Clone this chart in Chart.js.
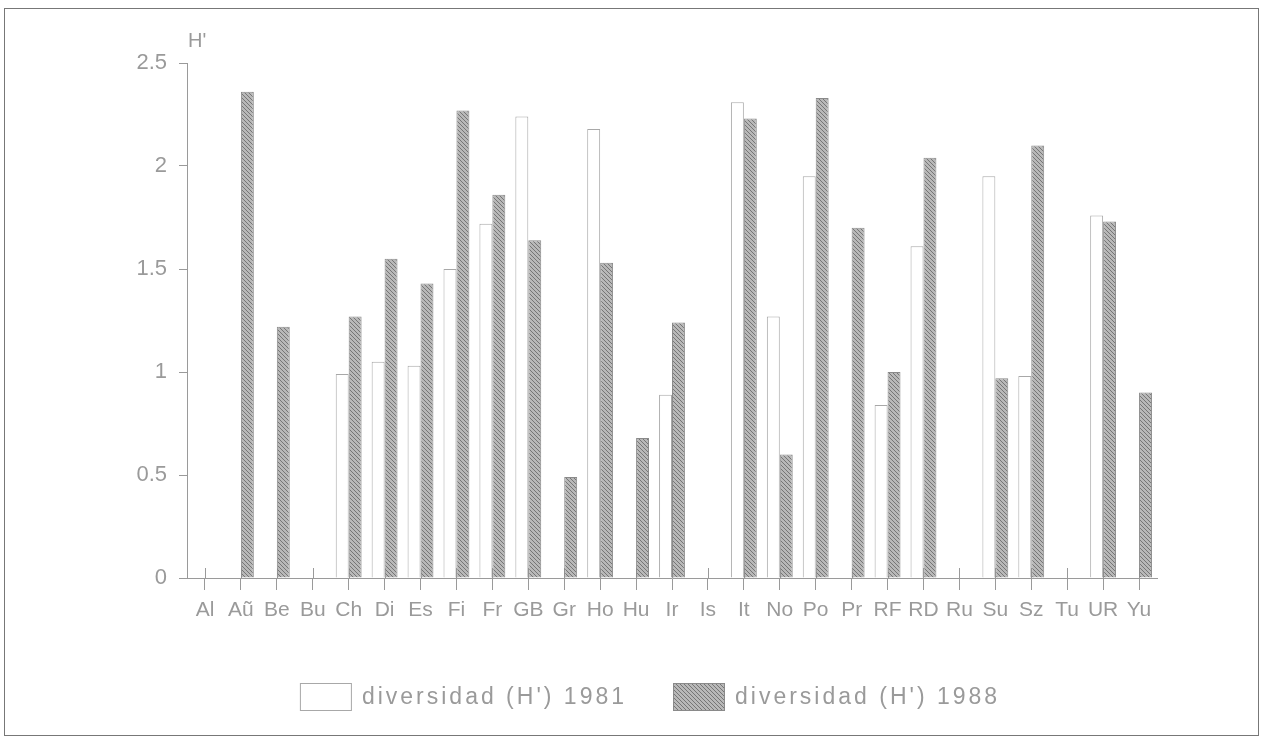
<!DOCTYPE html>
<html lang="es">
<head>
<meta charset="UTF-8">
<title>Diversidad (H')</title>
<script src="https://cdn.jsdelivr.net/npm/chart.js@4.4.1/dist/chart.umd.min.js"></script>
<style>
    body { margin: 0; background: #fff; }
    #wrap { position: relative; width: 1267px; height: 738px; }
    #frame { position: absolute; left: 4px; top: 8px; width: 1255px; height: 728px;
             border: 1px solid #777; box-sizing: border-box; pointer-events: none; }
</style>
</head>
<body>
<div id="wrap">
    <canvas id="chart" width="1267" height="738"></canvas>
    <div id="frame"></div>
</div>
<script>
    // datos
    const paises = ['Al', 'Aũ', 'Be', 'Bu', 'Ch', 'Di', 'Es', 'Fi', 'Fr', 'GB', 'Gr', 'Ho', 'Hu', 'Ir',
        'Is', 'It', 'No', 'Po', 'Pr', 'RF', 'RD', 'Ru', 'Su', 'Sz', 'Tu', 'UR', 'Yu'];
    const h1981 = [null, null, null, null, 0.99, 1.05, 1.03, 1.50, 1.72, 2.24, null, 2.18, null, 0.89,
        null, 2.31, 1.27, 1.95, null, 0.84, 1.61, null, 1.95, 0.98, null, 1.76, null];
    const h1988 = [null, 2.36, 1.22, null, 1.27, 1.55, 1.43, 2.27, 1.86, 1.64, 0.49, 1.53, 0.68, 1.24,
        null, 2.23, 0.60, 2.33, 1.70, 1.00, 2.04, null, 0.97, 2.10, null, 1.73, 0.90];
    const series = ["diversidad (H') 1981", "diversidad (H') 1988"];

    const gris = '#9a9a9a';
    const fuente = 'Liberation Sans, Arial, sans-serif';

    function hatch() {
        const c = document.createElement('canvas');
        c.width = 4; c.height = 4;
        const g = c.getContext('2d');
        g.fillStyle = '#b8b8b8';
        g.fillRect(0, 0, 4, 4);
        g.strokeStyle = '#767676';
        g.lineWidth = 1;
        g.beginPath();
        g.moveTo(0, 0); g.lineTo(4, 4);
        g.moveTo(-1, 3); g.lineTo(1, 5);
        g.moveTo(3, -1); g.lineTo(5, 1);
        g.stroke();
        return g.createPattern(c, 'repeat');
    }

    // ticks del eje x que cruzan la linea
    const crossTicks = {
        id: 'crossTicks',
        beforeDatasetsDraw(chart) {
            const x = chart.scales.x, ctx = chart.ctx, b = chart.chartArea.bottom;
            ctx.save();
            ctx.strokeStyle = gris;
            ctx.lineWidth = 1;
            for (let i = 0; i < x.ticks.length; i++) {
                const px = Math.round(x.getPixelForTick(i)) + 0.5;
                ctx.beginPath();
                ctx.moveTo(px, b - 10);
                ctx.lineTo(px, b);
                ctx.stroke();
            }
            ctx.restore();
        }
    };

    // titulo H' y leyenda propia
    const extras = {
        id: 'extras',
        afterDraw(chart) {
            const ctx = chart.ctx, area = chart.chartArea;
            ctx.save();
            ctx.fillStyle = gris;
            ctx.font = '20px ' + fuente;
            ctx.textBaseline = 'middle';
            ctx.fillText("H'", area.left + 1, area.top - 22);

            ctx.font = '23px ' + fuente;
            ctx.letterSpacing = '3px';
            const boxW = 52, boxH = 28, gapT = 10, gapI = 46;
            const ds = chart.data.datasets;
            let total = 0;
            ds.forEach((d, i) => {
                total += boxW + gapT + ctx.measureText(d.label).width + (i ? 0 : gapI);
            });
            let x = 650 - total / 2;
            const y = 697;
            ds.forEach(d => {
                ctx.fillStyle = d.backgroundColor;
                ctx.fillRect(x, y - boxH / 2, boxW, boxH);
                ctx.strokeStyle = d.borderColor;
                ctx.lineWidth = 1;
                ctx.strokeRect(x + 0.5, y - boxH / 2 + 0.5, boxW - 1, boxH - 1);
                ctx.fillStyle = gris;
                ctx.fillText(d.label, x + boxW + gapT, y + 1);
                x += boxW + gapT + ctx.measureText(d.label).width + gapI;
            });
            ctx.restore();
        }
    };

    const ctx = document.getElementById('chart').getContext('2d');
    new Chart(ctx, {
        type: 'bar',
        data: {
            labels: paises,
            datasets: [{
                label: series[0],
                data: h1981,
                backgroundColor: '#ffffff',
                borderColor: '#a8a8a8',
                borderWidth: 1
            }, {
                label: series[1],
                data: h1988,
                backgroundColor: hatch(),
                borderColor: '#8a8a8a',
                borderWidth: 1
            }]
        },
        options: {
            responsive: false,
            animation: false,
            categoryPercentage: 0.72,
            barPercentage: 1,
            layout: { padding: { left: 0, right: 110, top: 63, bottom: 102 } },
            plugins: {
                legend: { display: false },
                tooltip: { enabled: false }
            },
            scales: {
                x: {
                    afterFit(scale) { scale.height = 58; },
                    border: { color: gris, width: 1 },
                    grid: { offset: false, drawOnChartArea: false, tickLength: 12, color: gris },
                    ticks: {
                        color: gris, padding: 8, maxRotation: 0, autoSkip: false,
                        font: { family: fuente, size: 21 }
                    }
                },
                y: {
                    min: 0, max: 2.5,
                    afterFit(scale) { scale.width = 187; },
                    border: { color: gris, width: 1 },
                    grid: { drawOnChartArea: false, tickLength: 8, color: gris },
                    ticks: {
                        stepSize: 0.5, color: gris, padding: 12,
                        font: { family: fuente, size: 22 },
                        callback: v => String(v)
                    }
                }
            }
        },
        plugins: [crossTicks, extras]
    });
</script>
</body>
</html>
